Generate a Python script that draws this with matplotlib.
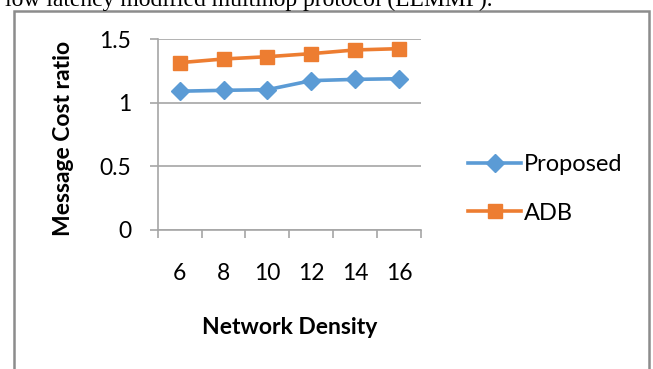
import matplotlib
matplotlib.use("Agg")
import matplotlib.pyplot as plt
from matplotlib.patches import Rectangle

densities = ["6", "8", "10", "12", "14", "16"]
proposed = [1.09, 1.097, 1.102, 1.173, 1.183, 1.188]
adb = [1.314, 1.343, 1.361, 1.385, 1.414, 1.424]
yticks = [0, 0.5, 1, 1.5]
ytick_labels = ["0", "0.5", "1", "1.5"]

W, H = 653, 369
fig = plt.figure(figsize=(W / 100, H / 100), dpi=100)
fig.patch.set_facecolor("white")

FONT = "Lato"
GRID = "#a6a6a6"

ax = fig.add_axes([157.7 / W, 1 - 230 / H, (421 - 157.7) / W, (230 - 39) / H])
x = list(range(len(densities)))
ax.plot(x, proposed, color="#5B9BD5", lw=2.6, marker="D", ms=9, label="Proposed", zorder=3)
ax.plot(x, adb, color="#ED7D31", lw=2.6, marker="s", ms=9.5, label="ADB", zorder=3)

ax.set_xlim(-0.5, len(densities) - 0.5)
ax.set_ylim(0, 1.5)
ax.set_yticks(yticks)
ax.set_yticklabels(ytick_labels, fontname=FONT, fontsize=16.5)
ax.set_xticks(x)
ax.set_xticklabels(densities, fontname=FONT, fontsize=16.5)
ax.set_xticks([i - 0.5 for i in range(len(densities) + 1)], minor=True)
ax.tick_params(axis="x", which="major", length=0, pad=24)
ax.tick_params(axis="x", which="minor", length=6, width=1.2, color=GRID, direction="out")
ax.tick_params(axis="y", which="major", length=6, width=1.2, color=GRID, pad=13)
ax.yaxis.grid(True, color=GRID, lw=1.2)
ax.set_axisbelow(True)
for s in ["top", "right"]:
    ax.spines[s].set_visible(False)
for s in ["left", "bottom"]:
    ax.spines[s].set_color(GRID)
    ax.spines[s].set_linewidth(1.2)

fig.text(64 / W, 1 - 138 / H, "Message Cost ratio", rotation=90, ha="center", va="center",
         fontname=FONT, fontweight="bold", fontsize=16.5)
fig.text(290 / W, 1 - 327 / H, "Network Density", ha="center", va="center",
         fontname=FONT, fontweight="bold", fontsize=16.5)

leg = fig.legend(loc="center left", bbox_to_anchor=(447 / W, 1 - 189 / H), frameon=False,
                 prop={"family": FONT, "size": 17}, handlelength=2.25, handletextpad=0.12,
                 labelspacing=1.15)

fig.text(5 / W, 1 - 5.7 / H, "low latency modified multihop protocol (LLMMP).",
         fontname="Liberation Serif", fontsize=17, va="baseline", ha="left")

fig.patches.append(Rectangle((13.5 / W, -0.1), (649 - 13.5) / W, 1.1 - 11.2 / H,
                             transform=fig.transFigure, fill=False, edgecolor="#8c8c8c",
                             lw=1.8, clip_on=False))

fig.savefig("out.png", dpi=100)
